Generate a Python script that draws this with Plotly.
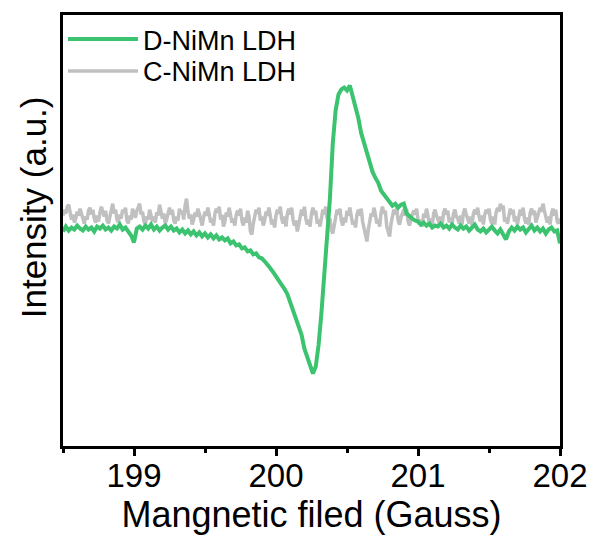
import plotly.graph_objects as go

# Magnetic field sampling grids (Gauss)
FIELD_D = [round(198.5 + 0.02 * i, 2) for i in range(176)]
FIELD_C = [round(198.5 + 0.01 * i, 2) for i in range(351)]

# D-NiMn LDH intensity (a.u.)
D_NIMN = [
    -14, -9, -13, -10, -12, -8, -11, -13, -9, -12,
    -10, -14, -9, -11, -8, -12, -10, -13, -9, -11,
    -7, -12, -10, -14, -18, -25, -11, -9, -12, -8,
    -11, -7, -12, -9, -13, -10, -8, -12, -9, -13,
    -11, -15, -12, -16, -13, -17, -14, -18, -15, -19,
    -16, -20, -17, -21, -18, -22, -20, -23, -21, -26,
    -24, -28, -27, -31, -30, -34, -33, -37, -36, -40,
    -41, -44, -47, -51, -55, -59, -64, -68, -72, -77,
    -85, -94, -101, -108, -118, -132, -140, -147, -157, -150,
    -128, -96, -58, -22, 20, 75, 108, 124, 129, 131,
    128, 133, 123, 110, 100, 85, 75, 64, 56, 46,
    40, 35, 27, 23, 19, 16, 12, 14, 10, 13,
    14, 4, 1, -1, -3, -4, -7, -5, -8, -6,
    -10, -8, -9, -6, -10, -8, -11, -7, -10, -12,
    -8, -11, -9, -13, -10, -7, -12, -14, -11, -15,
    -12, -9, -13, -16, -12, -18, -22, -14, -10, -13,
    -9, -12, -10, -15, -11, -8, -13, -10, -14, -11,
    -16, -12, -10, -14, -13, -26,
]

# C-NiMn LDH intensity (a.u.)
C_NIMN = [
    2, 8, 4, 11, 13, 5, -2, 3, -5, -1,
    6, 2, 9, 4, -3, -6, 1, -2, 7, 10,
    3, 8, -1, -5, 2, -4, 5, 11, 6, 1,
    7, -3, -6, 0, 9, 14, 4, 8, -2, -5,
    3, -1, 8, 5, 10, -3, -6, 2, -2, 9,
    4, 0, 7, 11, 14, 3, 6, -4, -7, 1,
    -2, 8, 3, -4, 1, -5, 5, 2, 13, 7,
    -1, 4, -6, -2, 6, 10, 3, 8, -3, -6,
    1, -3, 9, 4, 7, -2, 12, 19, 6, -1,
    3, -7, -2, 5, 1, 9, 4, -4, -8, 0,
    6, 2, 10, 3, -5, -1, -8, 4, 9, 5,
    11, -2, 3, -9, -4, 5, 1, 10, 4, -5,
    -1, -8, 3, 7, 2, 9, -3, -8, 0, -5,
    7, 1, -14, -17, -6, 3, 8, 4, 10, -3,
    1, -8, -3, 6, 2, 10, -1, -7, -2, -10,
    2, 8, 4, 11, -1, -6, 1, -9, 4, 9,
    3, 10, -2, -8, -3, -14, -7, 3, 8, 2,
    11, -1, -7, -2, -9, 4, 10, 3, 7, -6,
    -2, -9, 2, 8, 3, 11, 0, -6, -1, -13,
    -16, -6, 1, 8, 3, 9, -3, -8, 0, -5,
    7, 2, 10, -2, -7, -3, -10, 3, 8, 2,
    9, -4, -10, -18, -24, -12, -3, 4, 1, 10,
    3, -6, -2, -9, 5, 11, 4, 7, -9, -15,
    -19, -6, 1, 8, 3, 10, -3, -7, 0, 4,
    8, 2, 9, -4, -8, -1, 2, 7, 3, 9,
    -2, -7, -2, -9, 4, 0, 9, 2, -6, -1,
    -8, 4, 8, 2, -1, -6, 1, -8, 5, 9,
    3, 7, -5, 0, -7, 4, 8, 1, -1, -6,
    2, -7, 5, 9, 3, -1, -6, 1, -8, 4,
    8, 3, 10, 1, -4, 2, -7, 3, 8, 4,
    9, -2, -6, 1, -7, 5, 10, 6, 14, 8,
    12, -4, 0, -6, 4, 9, 3, 8, -4, 1,
    -7, 3, 8, 2, 10, -1, -6, 0, -7, 5,
    9, 3, 7, -5, 1, 4, 10, 6, 14, 7,
    0, -5, 1, -7, 4, 9, 2, 8, -4, -6,
    -1,
]

X_TICKS = [199, 200, 201, 202]
X_TICK_LABELS = ["199", "200", "201", "202"]

assert len(D_NIMN) == len(FIELD_D) and len(C_NIMN) == len(FIELD_C)

GREEN = "#3cc36f"
GRAY = "#c0c0c0"
FONT = "Liberation Sans, Arial, sans-serif"

fig = go.Figure()
fig.add_trace(go.Scatter(x=FIELD_C, y=C_NIMN, mode="lines", name="C-NiMn LDH",
                         line=dict(color=GRAY, width=3.5), legend="legend2"))
fig.add_trace(go.Scatter(x=FIELD_D, y=D_NIMN, mode="lines", name="D-NiMn LDH",
                         line=dict(color=GREEN, width=4), legend="legend"))

LEG = dict(xanchor="left", yanchor="top", bgcolor="rgba(0,0,0,0)",
           font=dict(size=27, family=FONT), itemwidth=70)

# page body has an 8px default margin, so the figure is 8px smaller each way
fig.update_layout(
    width=589, height=538,
    margin=dict(l=55, r=37, t=4, b=100),
    plot_bgcolor="white", paper_bgcolor="white",
    font=dict(family=FONT, color="black"),
    showlegend=True,
    legend=dict(x=0.0, y=1.0, **LEG),
    legend2=dict(x=0.0, y=0.926, **LEG),
    xaxis=dict(range=[198.5, 202], tickvals=X_TICKS, ticktext=X_TICK_LABELS,
               ticks="outside", ticklen=7, tickwidth=3, tickcolor="black",
               tickfont=dict(size=33, family=FONT), ticklabelstandoff=-9,
               showline=True, linewidth=3, linecolor="black", mirror=True,
               showgrid=False, zeroline=False,
               minor=dict(tickvals=[198.5, 199.5, 200.5, 201.5], ticks="outside",
                          ticklen=4, tickwidth=3, tickcolor="black"),
               title=dict(text="Mangnetic filed (Gauss)", font=dict(size=36, family=FONT),
                          standoff=4)),
    yaxis=dict(range=[-230, 204], showticklabels=False, ticks="",
               showline=True, linewidth=3, linecolor="black", mirror=True,
               showgrid=False, zeroline=False),
    annotations=[dict(text="Intensity (a.u.)", textangle=-90, showarrow=False,
                      xref="paper", yref="paper", x=-0.0594, y=0.555,
                      xanchor="center", yanchor="middle",
                      font=dict(size=35, family=FONT))],
)

fig.write_html("out.html")
